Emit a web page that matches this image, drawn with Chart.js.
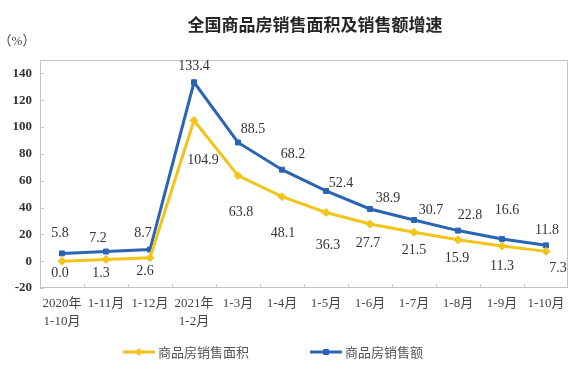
<!DOCTYPE html>
<html><head><meta charset="utf-8">
<script src="https://cdn.jsdelivr.net/npm/chart.js@4/dist/chart.umd.min.js"></script>
<style>html,body{margin:0;padding:0;background:#fff}#wrap{width:587px;height:372px}</style>
</head><body><div id="wrap"><canvas id="c" width="587" height="372"></canvas></div>
<script>
const categories = [["2020年","1-10月"],"1-11月","1-12月",["2021年","1-2月"],"1-3月","1-4月","1-5月","1-6月","1-7月","1-8月","1-9月","1-10月"];
const areaGrowth = [0.0,1.3,2.6,104.9,63.8,48.1,36.3,27.7,21.5,15.9,11.3,7.3];
const salesGrowth = [5.8,7.2,8.7,133.4,88.5,68.2,52.4,38.9,30.7,22.8,16.6,11.8];
const yTicks = [-20,0,20,40,60,80,100,120,140];
const seriesNames = ["商品房销售面积","商品房销售额"];
const chartTitle = "全国商品房销售面积及销售额增速";
const unitLabel = "（%）";

// label placement offsets (styling only)
const salesLabelOffsets = [[-2,-20],[-8,-13],[-7,-16],[0,-16],[15,-13],[11,-15],[15,-8],[18,-11],[17,-10],[12,-15],[5,-29],[1,-15]];
const areaLabelOffsets = [[-2,12],[-5,14],[-5,14],[9,40],[3,37],[1,37],[2,33],[-2,19],[0,18],[-1,18],[0,20],[12,17]];

const YELLOW = '#f2c318';
const BLUE = '#2a64b4';
const SERIF = "'Liberation Serif','Noto Sans CJK SC',serif";
const CJK = "'Noto Sans CJK SC',sans-serif";

const framePlugin = {
  id: 'frame',
  beforeDatasetsDraw(chart) {
    const {ctx, chartArea: a, scales} = chart;
    ctx.save();
    ctx.strokeStyle = '#c4c4c4';
    ctx.lineWidth = 1;
    ctx.strokeRect(Math.round(a.left)+0.5, Math.round(a.top)+0.5, Math.round(a.right-a.left)-1, Math.round(a.bottom-a.top)-1);
    ctx.beginPath();
    yTicks.forEach(v => {
      const y = Math.round(scales.y.getPixelForValue(v)) + 0.5;
      ctx.moveTo(a.left, y); ctx.lineTo(a.left + 4, y);
    });
    for (let i = 1; i < categories.length; i++) {
      const x = Math.round((scales.x.getPixelForValue(i-1) + scales.x.getPixelForValue(i)) / 2) + 0.5;
      ctx.moveTo(x, a.bottom); ctx.lineTo(x, a.bottom - 4);
    }
    ctx.stroke();
    ctx.restore();
  },
  afterDraw(chart) {
    const {ctx} = chart;
    ctx.save();
    ctx.fillStyle = '#262626';
    ctx.font = "bold 17px " + CJK;
    ctx.textAlign = 'center';
    ctx.textBaseline = 'middle';
    ctx.fillText(chartTitle, 315, 25);
    ctx.fillStyle = '#444';
    ctx.font = "13px " + SERIF;
    ctx.fillText(unitLabel, 17, 42);
    // legend
    const items = [
      {x: 123, color: YELLOW, style: 'rectRot', name: seriesNames[0]},
      {x: 310, color: BLUE, style: 'rect', name: seriesNames[1]}
    ];
    const ly = 352;
    items.forEach(it => {
      ctx.strokeStyle = it.color; ctx.lineWidth = 3;
      ctx.beginPath(); ctx.moveTo(it.x, ly); ctx.lineTo(it.x + 32, ly); ctx.stroke();
      ctx.fillStyle = it.color; ctx.lineWidth = 1;
      Chart.helpers.drawPoint(ctx, {pointStyle: it.style, radius: 3.5, borderWidth: 1}, it.x + 16, ly);
      ctx.fillStyle = '#555';
      ctx.font = "13px " + CJK;
      ctx.textAlign = 'left';
      ctx.fillText(it.name, it.x + 35, ly);
    });
    ctx.restore();
  }
};

const labelPlugin = {
  id: 'valueLabels',
  afterDatasetsDraw(chart) {
    const {ctx} = chart;
    ctx.save();
    ctx.font = "14px " + SERIF;
    ctx.fillStyle = '#333';
    ctx.textAlign = 'center';
    ctx.textBaseline = 'middle';
    const offs = [areaLabelOffsets, salesLabelOffsets];
    chart.data.datasets.forEach((ds, di) => {
      chart.getDatasetMeta(di).data.forEach((pt, i) => {
        const o = offs[di][i];
        ctx.fillText(ds.data[i].toFixed(1), pt.x + o[0], pt.y + o[1]);
      });
    });
    ctx.restore();
  }
};

new Chart(document.getElementById('c'), {
  type: 'line',
  data: {
    labels: categories,
    datasets: [
      {label: seriesNames[0], data: areaGrowth, borderColor: YELLOW, backgroundColor: YELLOW,
       borderWidth: 3, pointStyle: 'rectRot', pointRadius: 4, pointBorderWidth: 1, tension: 0},
      {label: seriesNames[1], data: salesGrowth, borderColor: BLUE, backgroundColor: BLUE,
       borderWidth: 3, pointStyle: 'rect', pointRadius: 3.5, pointBorderWidth: 1, tension: 0}
    ]
  },
  options: {
    responsive: false,
    animation: false,
    devicePixelRatio: 1,
    layout: {padding: {top: 60, right: 19, left: 0, bottom: 0}},
    plugins: {legend: {display: false}, title: {display: false}, tooltip: {enabled: false}},
    scales: {
      x: {
        offset: true,
        grid: {display: false, drawTicks: false},
        border: {display: false},
        ticks: {font: {family: SERIF, size: 13, lineHeight: 1.38}, color: '#444', padding: 7, maxRotation: 0, autoSkip: false},
        afterFit(s) { s.height = 84; }
      },
      y: {
        min: -20, max: 150,
        grid: {display: false, drawTicks: false},
        border: {display: false},
        afterBuildTicks(s) { s.ticks = yTicks.map(v => ({value: v})); },
        ticks: {font: {family: SERIF, size: 13, weight: 'bold'}, color: '#333', padding: 8},
        afterFit(s) { s.width = 40; }
      }
    }
  },
  plugins: [framePlugin, labelPlugin]
});
</script>
</body></html>
